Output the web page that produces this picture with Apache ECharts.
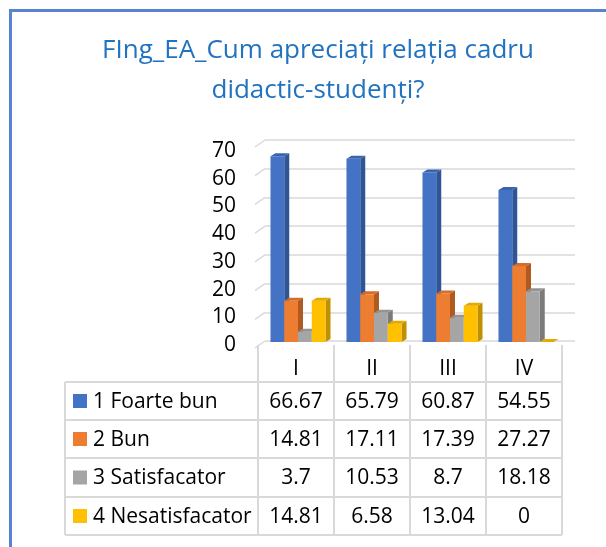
<!DOCTYPE html>
<html>
<head>
<meta charset="utf-8">
<script src="https://cdn.jsdelivr.net/npm/echarts@6/dist/echarts.min.js"></script>
<style>
  html, body { margin: 0; padding: 0; background: #fff; }
  #chart { width: 606px; height: 547px; }
</style>
</head>
<body>
<div id="chart"></div>
<script>
// data
var categories = ['I', 'II', 'III', 'IV'];
var seriesNames = ['1 Foarte bun', '2 Bun', '3 Satisfacator', '4 Nesatisfacator'];
var foarteBun = [66.67, 65.79, 60.87, 54.55];
var bun = [14.81, 17.11, 17.39, 27.27];
var satisfacator = [3.7, 10.53, 8.7, 18.18];
var nesatisfacator = [14.81, 6.58, 13.04, 0];
var yTicks = [0, 10, 20, 30, 40, 50, 60, 70];

var seriesValues = [foarteBun, bun, satisfacator, nesatisfacator];

var frontColors = ['#4472C4', '#ED7D31', '#A5A5A5', '#FFC000'];
var sideColors = ['#2F5597', '#AE5A21', '#7B7B7B', '#BF9000'];
var topColors = ['#3A63AD', '#D36D28', '#939393', '#E3AA00'];

var FONT = '"Open Sans", "Liberation Sans", sans-serif';

// layout
var plotLeft = 258, plotRight = 562;
var colW = (plotRight - plotLeft) / categories.length;
var headTop = 345;
var rowTops = [382, 420, 458, 497, 535];
var tableLeft = 65;
var gridColor = '#D9D9D9';
var depthX = 5, depthY = 3;   // bar depth
var floorX = 10, floorY = 7;  // wall to front offset

var chart = echarts.init(document.getElementById('chart'));

function barRenderer(s) {
    return function (params, api) {
        var cat = api.value(0), val = api.value(1);
        var base = api.coord([cat, 0]);
        var top = api.coord([cat, val]);
        var band = api.size([1, 0])[0];
        var w = band * 0.181;
        var x0 = base[0] + 2 + (s - 2) * w;
        var x1 = x0 + w;
        var yb = base[1], yt = top[1];
        var children = [];
        if (yb - yt > 0.5) {
            children.push({
                type: 'polygon',
                shape: { points: [[x1, yt], [x1 + depthX, yt - depthY], [x1 + depthX, yb - depthY], [x1, yb]] },
                style: { fill: sideColors[s] }
            });
            children.push({
                type: 'rect',
                shape: { x: x0, y: yt, width: w, height: yb - yt },
                style: { fill: frontColors[s] }
            });
        }
        children.push({
            type: 'polygon',
            shape: { points: [[x0, yt], [x0 + depthX, yt - depthY], [x1 + depthX, yt - depthY], [x1, yt]] },
            style: { fill: topColors[s] }
        });
        return { type: 'group', children: children };
    };
}

var series = seriesValues.map(function (vals, s) {
    return {
        type: 'custom',
        name: seriesNames[s],
        xAxisIndex: 0,
        yAxisIndex: 0,
        renderItem: barRenderer(s),
        data: vals.map(function (v, i) { return [i, v]; }),
        z: 5
    };
});

// slanted ends of the back-wall gridlines
series.unshift({
    type: 'custom',
    xAxisIndex: 1,
    yAxisIndex: 1,
    silent: true,
    renderItem: function (params, api) {
        var p = api.coord([0, api.value(0)]);
        return {
            type: 'line',
            shape: { x1: p[0], y1: p[1], x2: p[0] - floorX, y2: p[1] + floorY },
            style: { stroke: gridColor, lineWidth: 1.5 }
        };
    },
    data: yTicks.map(function (t) { return [t]; }),
    z: 1
});

// data table built from the arrays
var graphics = [{
    type: 'rect',
    shape: { x: 10.5, y: 10.5, width: 900, height: 900 },
    style: { fill: 'none', stroke: '#5684D2', lineWidth: 3 },
    z: 100
}];

rowTops.forEach(function (y) {
    graphics.push({
        type: 'line',
        shape: { x1: tableLeft, y1: y, x2: plotRight, y2: y },
        style: { stroke: gridColor, lineWidth: 2 }
    });
});
graphics.push({
    type: 'line',
    shape: { x1: tableLeft, y1: rowTops[0], x2: tableLeft, y2: rowTops[rowTops.length - 1] },
    style: { stroke: gridColor, lineWidth: 2 }
});
for (var c = 0; c <= categories.length; c++) {
    var cx = plotLeft + c * colW;
    graphics.push({
        type: 'line',
        shape: { x1: cx, y1: headTop, x2: cx, y2: rowTops[rowTops.length - 1] },
        style: { stroke: gridColor, lineWidth: 2 }
    });
}

seriesNames.forEach(function (name, r) {
    var yMid = (rowTops[r] + rowTops[r + 1]) / 2;
    graphics.push({
        type: 'rect',
        shape: { x: 73, y: yMid - 7, width: 14, height: 14 },
        style: { fill: frontColors[r] }
    });
    graphics.push({
        type: 'text',
        style: { text: name, x: 93, y: yMid + 1, font: '21px ' + FONT, fill: '#000', verticalAlign: 'middle' }
    });
    seriesValues[r].forEach(function (v, c) {
        graphics.push({
            type: 'text',
            style: {
                text: String(v), x: plotLeft + (c + 0.5) * colW, y: yMid + 1,
                font: '21px ' + FONT, fill: '#000', align: 'center', verticalAlign: 'middle'
            }
        });
    });
});

chart.setOption({
    animation: false,
    title: {
        text: 'FIng_EA_Cum apreciați relația cadru\ndidactic-studenți?',
        left: 313,
        top: 26,
        textAlign: 'center',
        textStyle: {
            fontFamily: FONT, fontSize: 26, fontWeight: 'normal',
            color: '#2273BF', lineHeight: 40
        }
    },
    grid: [
        { left: plotLeft, right: 606 - plotRight, top: 147, bottom: 205 },
        { left: 265, right: 31, top: 140, bottom: 206 },
        { left: plotLeft, right: 606 - plotRight, top: 151, bottom: 202 }
    ],
    xAxis: [
        {
            type: 'category', gridIndex: 0, data: categories,
            axisLine: { show: false }, axisTick: { show: false },
            axisLabel: { margin: 27, verticalAlign: 'middle', fontFamily: FONT, fontSize: 21, color: '#000' }
        },
        { type: 'value', gridIndex: 1, min: 0, max: 1, show: false },
        { type: 'category', gridIndex: 2, data: categories, show: false }
    ],
    yAxis: [
        { type: 'value', gridIndex: 0, min: 0, max: 70, interval: 10, show: false },
        {
            type: 'value', gridIndex: 1, min: 0, max: 70, interval: 10,
            axisLine: { show: false }, axisTick: { show: false }, axisLabel: { show: false },
            splitLine: { lineStyle: { color: gridColor, width: 1.5 } }
        },
        {
            type: 'value', gridIndex: 2, min: 0, max: 70, interval: 10,
            axisLine: { show: false }, axisTick: { show: false }, splitLine: { show: false },
            axisLabel: { margin: 22, fontFamily: FONT, fontSize: 21, color: '#000' }
        }
    ],
    graphic: graphics,
    series: series
});
</script>
</body>
</html>
